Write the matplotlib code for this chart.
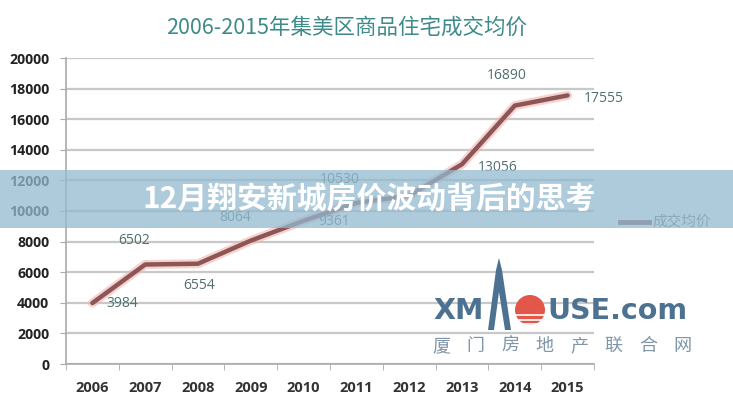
import matplotlib
matplotlib.use('Agg')
import matplotlib.pyplot as plt
from matplotlib.patches import Rectangle, Ellipse, Polygon
from matplotlib.lines import Line2D

plt.rcParams['font.family'] = ['Noto Sans CJK SC', 'DejaVu Sans']

# -------------------------------
# Data
# -------------------------------
years = ['2006', '2007', '2008', '2009', '2010', '2011', '2012', '2013', '2014', '2015']
prices = [3984, 6502, 6554, 8064, 9361, 10530, 11000, 13056, 16890, 17555]
labels = ['3984', '6502', '6554', '8064', '9361', '10530', None, '13056', '16890', '17555']
# label offsets in pixels (styling only)
label_offsets = [(30, 0), (-11, 24), (1, -22), (-16, 23), (31, -1), (-17, 23), (0, 0), (36, -3), (-8, 30), (36, -3)]
y_ticks = list(range(0, 20001, 2000))

title = '2006-2015年集美区商品住宅成交均价'
banner = '12月翔安新城房价波动背后的思考'
legend_label = '成交均价'

W, H = 733, 400


def fx(px):
    return px / W


def fy(py):
    return 1 - py / H


fig = plt.figure(figsize=(W / 100, H / 100), dpi=100)
fig.patch.set_facecolor('white')

ax = fig.add_axes([fx(66), fy(364), fx(594) - fx(66), fy(58) - fy(364)])
x = list(range(len(years)))

ax.set_xlim(-0.5, len(years) - 0.5)
ax.set_ylim(0, 20000)
ax.set_yticks(y_ticks)
ax.set_yticklabels([str(v) for v in y_ticks], family='Open Sans', fontweight='bold',
                   fontsize=10.2, color='#222222')
ax.set_xticks(x)
ax.set_xticklabels(years, family='Open Sans', fontweight='bold', fontsize=10.5, color='#333333')
ax.set_xticks([i - 0.5 for i in range(len(years) + 1)], minor=True)
ax.tick_params(axis='x', which='major', length=0, pad=12)
ax.tick_params(axis='x', which='minor', length=4, color='#aaaaaa')
ax.tick_params(axis='y', length=4, color='#aaaaaa', pad=8)

ax.grid(axis='y', color='#c8c8c8', linewidth=1.6)
ax.set_axisbelow(True)
for side in ['top', 'right']:
    ax.spines[side].set_visible(False)
for side in ['left', 'bottom']:
    ax.spines[side].set_color('#aaaaaa')
    ax.spines[side].set_linewidth(1.2)

# line with a soft glow
ax.plot(x, prices, color='#f2b4b0', linewidth=6.5, alpha=0.6, solid_capstyle='round', zorder=3)
ax.plot(x, prices, color='#8c5656', linewidth=3.2, solid_capstyle='round', zorder=4)

for xi, yi, lab, off in zip(x, prices, labels, label_offsets):
    if lab is None:
        continue
    ax.annotate(lab, (xi, yi), xytext=off, textcoords='offset pixels', ha='center', va='center',
                family='Open Sans', fontsize=10, color='#4f6e6e', zorder=5)

# title
fig.text(fx(347), fy(28), title, ha='center', va='center', fontsize=15.5, color='#3f8a8a')

# legend
fig.add_artist(Line2D([fx(620), fx(649)], [fy(222), fy(222)], color='#8c5656', linewidth=3.5,
                      transform=fig.transFigure))
fig.text(fx(652), fy(222), legend_label, ha='left', va='center', fontsize=10.5, color='#777777')

# watermark logo
logo_col = '#4d7291'
fig.text(fx(433), fy(311), 'XM', ha='left', va='center', family='DejaVu Sans', fontweight='bold',
         fontsize=20.5, color=logo_col)
fig.add_artist(Polygon([(fx(488), fy(330)), (fx(496), fy(270)), (fx(499), fy(258)), (fx(502), fy(270)),
                        (fx(511), fy(330)), (fx(505), fy(330)), (fx(499), fy(292)), (fx(494), fy(330))],
                       closed=True, facecolor=logo_col, edgecolor='none', transform=fig.transFigure))
fig.add_artist(Ellipse((fx(530), fy(310)), 30 / W, 30 / H, facecolor='#e2574a', edgecolor='none',
                       transform=fig.transFigure))
for sy in [315, 320, 324]:
    fig.add_artist(Line2D([fx(514), fx(546)], [fy(sy), fy(sy)], color='white', linewidth=1.2,
                          transform=fig.transFigure))
fig.text(fx(547), fy(311), 'USE.com', ha='left', va='center', family='DejaVu Sans', fontweight='bold',
         fontsize=20.5, color=logo_col)
for i, ch in enumerate('厦门房地产联合网'):
    fig.text(fx(441 + i * 34.5), fy(346), ch, ha='center', va='center', fontsize=13, color='#7f95a8')

# banner overlay
fig.add_artist(Rectangle((0, fy(228)), 1, fy(170) - fy(228), facecolor='#93bad0', alpha=0.75,
                         edgecolor='none', transform=fig.transFigure, zorder=10))
fig.text(fx(369), fy(200), banner, ha='center', va='center', fontsize=21.5, fontweight='bold',
         color='white', zorder=11)

fig.savefig('out.png', dpi=100)
